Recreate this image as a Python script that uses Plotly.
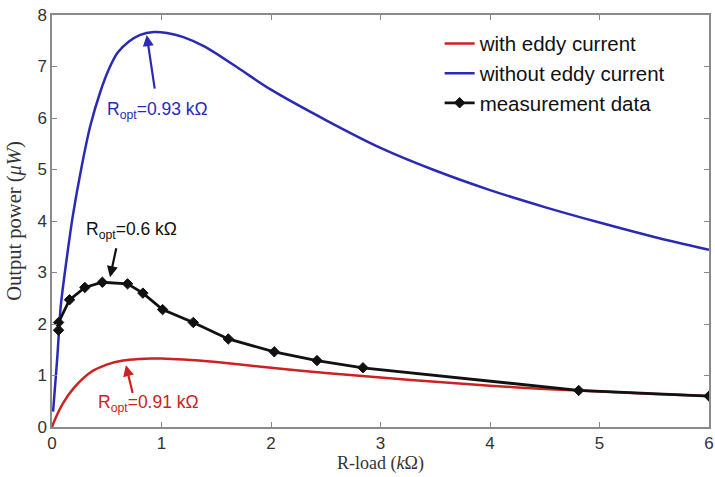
import plotly.graph_objects as go

# ---- data ----
r_red = [0, 0.03, 0.1, 0.2, 0.35, 0.5, 0.65, 0.8, 0.91, 1.0, 1.2, 1.5, 2.0, 2.5, 3.0, 3.5, 4.0, 4.5, 5.0, 5.5, 6.0]
p_red = [0, 0.16, 0.46, 0.76, 1.06, 1.21, 1.29, 1.32, 1.33, 1.33, 1.31, 1.26, 1.15, 1.05, 0.96, 0.88, 0.80, 0.74, 0.69, 0.64, 0.60]

r_blue = [0.01, 0.03, 0.05, 0.08, 0.13, 0.19, 0.27, 0.35, 0.44, 0.52, 0.6, 0.7, 0.8, 0.93, 1.05, 1.2, 1.4, 1.7, 2.0, 2.5, 3.0, 3.5, 4.0, 4.5, 5.0, 5.5, 6.0]
p_blue = [0.3, 0.85, 1.4, 2.35, 3.2, 4.1, 5.05, 5.85, 6.5, 6.95, 7.27, 7.48, 7.61, 7.67, 7.65, 7.57, 7.38, 6.97, 6.55, 5.96, 5.42, 4.98, 4.6, 4.27, 3.97, 3.69, 3.44]

r_meas = [0.06, 0.06, 0.16, 0.30, 0.46, 0.69, 0.83, 1.01, 1.29, 1.61, 2.03, 2.42, 2.84, 4.81, 6.0]
p_meas = [1.88, 2.03, 2.47, 2.71, 2.81, 2.78, 2.60, 2.28, 2.03, 1.71, 1.46, 1.29, 1.15, 0.71, 0.60]

series_names = ["with eddy current", "without eddy current", "measurement data"]
x_ticks = [0, 1, 2, 3, 4, 5, 6]
y_ticks = [0, 1, 2, 3, 4, 5, 6, 7, 8]

RED = "#cc2222"
BLUE = "#2a2ab4"
BLACK = "#111111"

# annotations: (text, text x, text y, arrow tip x, tip y, tail x, tail y, color)
notes = [
    ("R<sub>opt</sub>=0.93 kΩ", 0.96, 6.14, 0.865, 7.61, 0.94, 6.54, BLUE),
    ("R<sub>opt</sub>=0.6 kΩ", 0.73, 3.81, 0.53, 2.91, 0.59, 3.5, BLACK),
    ("R<sub>opt</sub>=0.91 kΩ", 0.885, 0.45, 0.675, 1.2, 0.74, 0.63, RED),
]

fig = go.Figure()
fig.add_trace(go.Scatter(x=r_red, y=p_red, mode="lines", name=series_names[0],
                         line=dict(color=RED, width=2.5, shape="spline", smoothing=0.8)))
fig.add_trace(go.Scatter(x=r_blue, y=p_blue, mode="lines", name=series_names[1],
                         line=dict(color=BLUE, width=2.5, shape="spline", smoothing=0.8)))
fig.add_trace(go.Scatter(x=r_meas, y=p_meas, mode="lines+markers", name=series_names[2],
                         line=dict(color=BLACK, width=2.8),
                         marker=dict(symbol="diamond", size=8, color=BLACK,
                                     line=dict(color=BLACK, width=1))))

for text, tx, ty, hx, hy, ax, ay, col in notes:
    fig.add_annotation(x=hx, y=hy, ax=ax, ay=ay, axref="x", ayref="y", text="",
                       showarrow=True, arrowhead=2, arrowsize=1, arrowwidth=2.2,
                       arrowcolor=col)
    fig.add_annotation(x=tx, y=ty, text=text, showarrow=False,
                       font=dict(family="Liberation Sans, Arial", size=17.5, color=col))

axis_common = dict(showline=True, linecolor="#8a8a8a", linewidth=1.5, mirror="ticks",
                   ticks="inside", ticklen=5, tickcolor="#8a8a8a", tickwidth=1.2,
                   showgrid=False, zeroline=False, automargin=False,
                   ticklabeloverflow="allow",
                   tickfont=dict(family="Liberation Sans, Arial", size=17, color="#333333"))

fig.update_xaxes(range=[0, 6], tickvals=x_ticks, **axis_common,
                 title=dict(text="R-load (<i>k</i>Ω)",
                            font=dict(family="Liberation Serif, DejaVu Serif", size=18, color="#333333"),
                            standoff=2))
fig.update_yaxes(range=[0, 8], tickvals=y_ticks, **axis_common,
                 title=dict(text="Output power (<i>μW</i>)",
                            font=dict(family="Liberation Serif, DejaVu Serif", size=20.5, color="#333333"),
                            standoff=10))

fig.update_layout(
    width=715, height=477,
    margin=dict(l=52, r=6, t=15, b=50),
    plot_bgcolor="white", paper_bgcolor="white",
    legend=dict(x=0.59, y=0.979, xanchor="left", yanchor="top",
                bgcolor="rgba(0,0,0,0)", borderwidth=0,
                font=dict(family="Liberation Sans, Arial", size=20.5, color="#111111"),
                tracegroupgap=0, itemwidth=30),
    showlegend=True,
)

fig.write_html("out.html", config={"displayModeBar": False},
               post_script="document.body.style.margin='0';document.body.style.overflow='hidden';")
